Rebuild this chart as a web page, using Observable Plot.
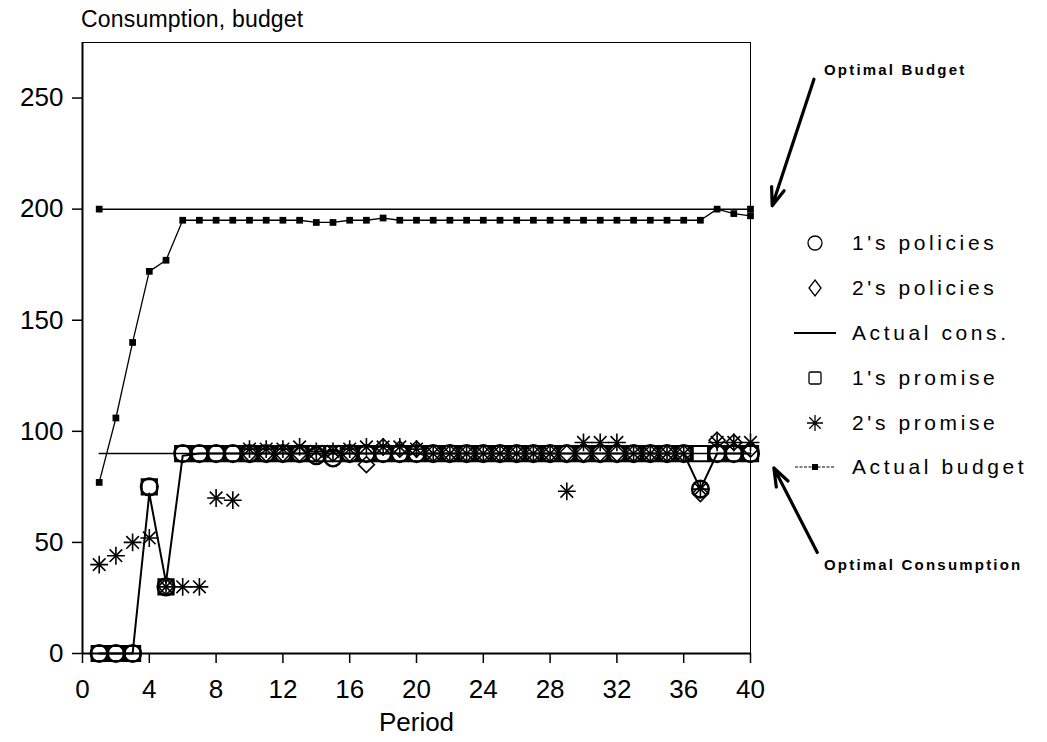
<!DOCTYPE html>
<html>
<head>
<meta charset="utf-8">
<script src="https://cdn.jsdelivr.net/npm/d3@7"></script>
<script src="https://cdn.jsdelivr.net/npm/@observablehq/plot@0.6"></script>
<style>
  body { margin: 0; background: #fff; }
  #wrap { position: relative; width: 1047px; height: 742px; font-family: "Liberation Sans", Arial, sans-serif; color: #000; }
  #wrap > svg { position: absolute; left: 0; top: 0; }
  #title { position: absolute; left: 81px; top: 6px; font-size: 23px; letter-spacing: 0.2px; }
  #legend { position: absolute; left: 789px; top: 221px; }
  .row { display: flex; align-items: center; height: 44.8px; font-size: 21px; letter-spacing: 3.6px; }
  .row svg { width: 52px; height: 30px; margin-right: 11px; flex: none; }
  g[aria-label="text"] text { letter-spacing: 2.2px; }
</style>
</head>
<body>
<div id="wrap">
  <div id="title">Consumption, budget</div>
  <div id="legend"></div>
</div>
<script>
// Periods of the game
const periods = [1, 2, 3, 4, 5, 6, 7, 8, 9, 10, 11, 12, 13, 14, 15, 16, 17, 18, 19, 20,
                 21, 22, 23, 24, 25, 26, 27, 28, 29, 30, 31, 32, 33, 34, 35, 36, 37, 38, 39, 40];

// Actual budget per period
const actualBudget = [77, 106, 140, 172, 177, 195, 195, 195, 195, 195, 195, 195, 195, 194, 194, 195, 195, 196, 195, 195,
                      195, 195, 195, 195, 195, 195, 195, 195, 195, 195, 195, 195, 195, 195, 195, 195, 195, 200, 198, 197];

// Actual consumption per period
const actualCons = [0, 0, 0, 72, 32, 89, 90, 90, 90, 90, 90, 90, 90, 90, 90, 90, 90, 90, 90, 90,
                    90, 90, 90, 90, 90, 90, 90, 90, 90, 90, 90, 90, 90, 90, 90, 90, 74, 90, 90, 90];

// Player 1's policies (circles)
const policies1 = [0, 0, 0, 75, 30, 90, 90, 90, 90, 90, 90, 90, 90, 89, 88, 90, 90, 90, 90, 90,
                   90, 90, 90, 90, 90, 90, 90, 90, 90, 90, 90, 90, 90, 90, 90, 90, 74, 90, 90, 90];

// Player 2's policies (diamonds); null where none was set
const policies2 = [null, null, null, null, 30, null, null, null, null, 90, 90, 90, 90, 90, 90, 90, 85, 93, 92, 92,
                   90, 90, 90, 90, 90, 90, 90, 90, 90, 90, 90, 90, 90, 90, 90, 90, 72, 96, 95, 92];

// Player 1's promises (squares)
const promise1 = [0, 0, 0, 75, 30, 90, 90, 90, 90, 90, 90, 90, 90, 90, 90, 90, 90, 90, 90, 90,
                  90, 90, 90, 90, 90, 90, 90, 90, 90, 90, 90, 90, 90, 90, 90, 90, 90, 90, 90, 90];

// Player 2's promises (asterisks)
const promise2 = [40, 44, 50, 52, 30, 30, 30, 70, 69, 92, 92, 92, 93, 91, 91, 92, 93, 93, 93, 92,
                  90, 90, 90, 90, 90, 90, 90, 90, 73, 95, 95, 95, 90, 90, 90, 90, 74, 95, 95, 95];

// Optimal paths (start and end period, level)
const optimalPeriods = [1, 40];
const optimalBudget = 200;
const optimalConsumption = 90;

// Axis ticks
const xTicks = [0, 4, 8, 12, 16, 20, 24, 28, 32, 36, 40];
const yTicks = [0, 50, 100, 150, 200, 250];

// Callouts pointing at the optimal lines
const callouts = [
  {label: "Optimal Budget", tx: 44.4, ty: 262.5, x1: 43.8, y1: 258.5, x2: 41.3, y2: 201.5},
  {label: "Optimal Consumption", tx: 44.4, ty: 39.6, x1: 44.0, y1: 45.5, x2: 41.4, y2: 83.5}
];

const rows = periods.map((p, i) => ({
  p,
  budget: actualBudget[i],
  cons: actualCons[i],
  pol1: policies1[i],
  pol2: policies2[i],
  pro1: promise1[i],
  pro2: promise2[i]
}));
const optB = optimalPeriods.map(p => ({p, v: optimalBudget}));
const optC = optimalPeriods.map(p => ({p, v: optimalConsumption}));

const chart = Plot.plot({
  width: 1047,
  height: 742,
  marginLeft: 82,
  marginRight: 297,
  marginTop: 42,
  marginBottom: 89,
  style: {fontFamily: "'Liberation Sans', Arial, sans-serif", fontSize: "26px", color: "#000", background: "transparent"},
  x: {domain: [0, 40]},
  y: {domain: [0, 275]},
  marks: [
    // frame
    Plot.ruleX([40], {stroke: "#000", strokeWidth: 1}),
    Plot.ruleY([275], {stroke: "#000", strokeWidth: 1}),
    Plot.ruleX([0], {stroke: "#000", strokeWidth: 2}),
    Plot.ruleY([0], {stroke: "#000", strokeWidth: 2}),
    Plot.axisY({ticks: yTicks, tickSize: 10, tickPadding: 9, strokeWidth: 1.5, label: null}),
    Plot.axisX({ticks: xTicks, tickSize: 10, tickPadding: 16, strokeWidth: 1.5,
                label: "Period", labelAnchor: "center", labelArrow: "none", labelOffset: 77}),

    // optimal budget and consumption
    Plot.line(optB, {x: "p", y: "v", stroke: "#000", strokeWidth: 1.5}),
    Plot.dot(optB, {x: "p", y: "v", symbol: "square", r: 3.8, fill: "#000"}),
    Plot.line(optC, {x: "p", y: "v", stroke: "#000", strokeWidth: 1.6}),

    // actual budget
    Plot.line(rows, {x: "p", y: "budget", stroke: "#000", strokeWidth: 1.3}),
    Plot.dot(rows, {x: "p", y: "budget", symbol: "square", r: 3.8, fill: "#000"}),

    // actual consumption
    Plot.line(rows, {x: "p", y: "cons", stroke: "#000", strokeWidth: 2}),

    // policies and promises
    Plot.dot(rows, {x: "p", y: "pro1", symbol: "square", r: 8.6, stroke: "#000", strokeWidth: 2, fill: "none"}),
    Plot.dot(rows, {x: "p", y: "pol1", symbol: "circle", r: 8.4, stroke: "#000", strokeWidth: 2.4, fill: "none"}),
    Plot.dot(rows.filter(d => d.pol2 != null), {x: "p", y: "pol2", symbol: "diamond2", r: 7.2, stroke: "#000", strokeWidth: 1.6, fill: "none"}),
    Plot.dot(rows, {x: "p", y: "pro2", symbol: "plus", r: 5.8, stroke: "#000", strokeWidth: 1.6}),
    Plot.dot(rows, {x: "p", y: "pro2", symbol: "times", r: 5.8, stroke: "#000", strokeWidth: 1.6}),

    // callouts
    Plot.arrow(callouts, {x1: "x1", y1: "y1", x2: "x2", y2: "y2", stroke: "#000", strokeWidth: 3.2, headLength: 9, headAngle: 40}),
    Plot.text(callouts, {x: "tx", y: "ty", text: "label", textAnchor: "start", fontSize: 15, fontWeight: 600, fill: "#000"})
  ]
});
document.getElementById("wrap").prepend(chart);

// Legend
const legendItems = [
  {label: "1's policies", kind: "circle"},
  {label: "2's policies", kind: "diamond"},
  {label: "Actual cons.", kind: "line"},
  {label: "1's promise", kind: "square"},
  {label: "2's promise", kind: "asterisk"},
  {label: "Actual budget", kind: "budget"}
];
const glyphs = {
  circle: `<circle cx="26" cy="15" r="7" fill="none" stroke="#000" stroke-width="1.3"/>`,
  diamond: `<path d="M26,7 L32,15 L26,23 L20,15 Z" fill="none" stroke="#000" stroke-width="1.3"/>`,
  line: `<line x1="5" y1="15" x2="47" y2="15" stroke="#000" stroke-width="2"/>`,
  square: `<rect x="20" y="9" width="12" height="12" rx="1.5" fill="none" stroke="#000" stroke-width="1.3"/>`,
  asterisk: `<path d="M26,7 V23 M18,15 H34 M20.3,9.3 L31.7,20.7 M31.7,9.3 L20.3,20.7" stroke="#000" stroke-width="1.3"/>`,
  budget: `<line x1="6" y1="15" x2="46" y2="15" stroke="#000" stroke-width="1" stroke-dasharray="3 1.5"/><rect x="23" y="12" width="6" height="6" fill="#000"/>`
};
const legend = document.getElementById("legend");
for (const item of legendItems) {
  const row = document.createElement("div");
  row.className = "row";
  row.innerHTML = `<svg viewBox="0 0 52 30">${glyphs[item.kind]}</svg><span>${item.label}</span>`;
  legend.appendChild(row);
}
</script>
</body>
</html>
